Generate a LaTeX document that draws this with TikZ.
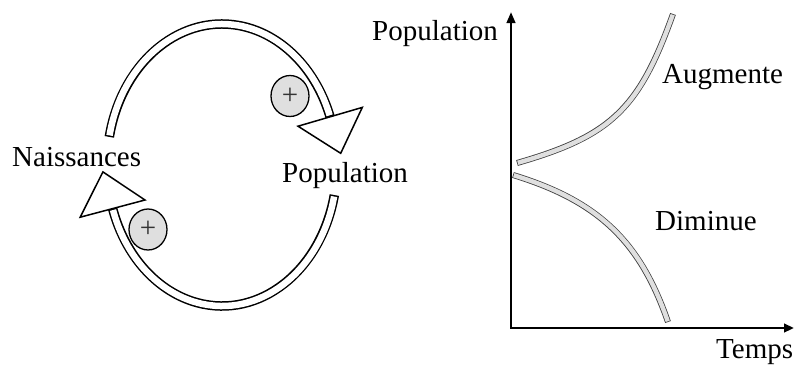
\documentclass[tikz,border=0pt]{standalone}
\usepackage{fontspec}
\setmainfont{Liberation Serif}
\usetikzlibrary{arrows.meta,shapes.geometric}

\begin{document}
\begin{tikzpicture}[x=1pt, y=-1pt,
  every node/.style={font=\fontsize{29}{34}\selectfont, inner sep=0pt},
  loopband/.style={line width=9.5pt,
    postaction={draw=white, line width=6.5pt, shorten <=1.5pt, shorten >=1.5pt}},
  loophead/.style={draw, fill=white, line width=1.5pt, line join=miter},
  growband/.style={draw=black!75, line width=6pt,
    postaction={draw=gray!25, line width=4.4pt, shorten <=0.8pt, shorten >=0.8pt}},
  plussign/.style={ellipse, draw, fill=gray!25, line width=1.3pt,
    minimum width=38pt, minimum height=41pt, text=black!80},
  axis/.style={line width=2.5pt, line join=miter}]
  \useasboundingbox (0,0) rectangle (795,365);

 % loop
  \coordinate (ctr) at (222,165);
  \draw[loopband] ([shift={(191.5:115 and 141)}]ctr)
    arc[start angle=191.5, end angle=340, x radius=115, y radius=141];
  \draw[loophead] (298,126.2) -- (362.3,107.4) -- (340.7,153.3) -- cycle;
  \draw[loopband] ([shift={(12.3:115 and 141)}]ctr)
    arc[start angle=12.3, end angle=162, x radius=115, y radius=141];
  \draw[loophead] (145,200) -- (80.2,217.2) -- (102.9,171.9) -- cycle;

  \node[plussign] (plusa) at (290,96) {+};
  \node[plussign] (plusb) at (148,229.5) {+};

  \node[anchor=base west] (naiss) at (12,166) {Naissances};
  \node[anchor=base west] (popl) at (282,182) {Population};

 % graph
  \coordinate (O) at (511,328);
  \coordinate (ytip) at (511,12);
  \coordinate (xtip) at (794,328);
  \draw[axis, {Triangle[length=11pt,width=8.5pt]}-{Triangle[length=10pt,width=8.5pt]}]
    (ytip) -- (O) -- (xtip);

  \draw[growband] (517,163) .. controls (611,136) and (639,109) .. (673,14);
  \draw[growband] (513,175) .. controls (598,201) and (640,241) .. (668,322);

  \node[anchor=base west] (ylab) at (372,40) {Population};
  \node[anchor=base west] (aug) at (662,83) {Augmente};
  \node[anchor=base west] (dim) at (655,230) {Diminue};
  \node[anchor=base west] (xlab) at (716,358) {Temps};

\end{tikzpicture}
\end{document}
